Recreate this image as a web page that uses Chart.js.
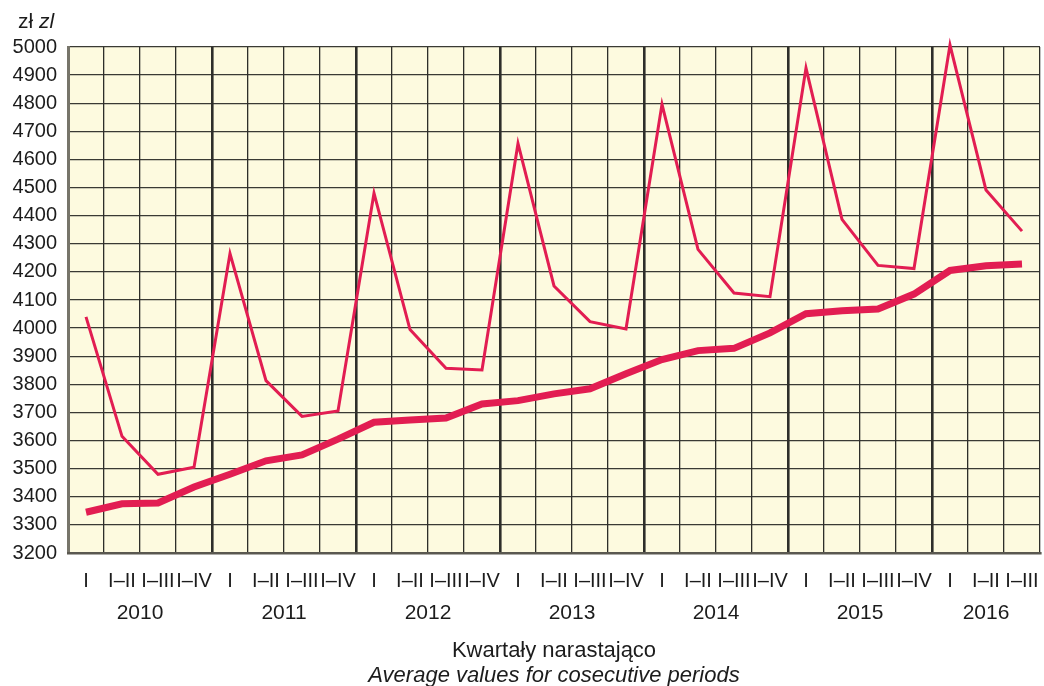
<!DOCTYPE html>
<html>
<head>
<meta charset="utf-8">
<script src="https://cdn.jsdelivr.net/npm/chart.js@4"></script>
<style>
  html, body { margin: 0; padding: 0; background: #fff; }
  #wrap { width: 1044px; height: 686px; }
</style>
</head>
<body>
<div id="wrap"><canvas id="wages"></canvas></div>
<script>
// quarters, cumulative within each year
const quarters = [
    'I', 'I–II', 'I–III', 'I–IV',
    'I', 'I–II', 'I–III', 'I–IV',
    'I', 'I–II', 'I–III', 'I–IV',
    'I', 'I–II', 'I–III', 'I–IV',
    'I', 'I–II', 'I–III', 'I–IV',
    'I', 'I–II', 'I–III', 'I–IV',
    'I', 'I–II', 'I–III'
]
const years = ['2010', '2011', '2012', '2013', '2014', '2015', '2016']

// thin line
const quarterValues = [
    4040, 3615, 3480, 3505,
    4265, 3813, 3686, 3705,
    4480, 3995, 3857, 3851,
    4657, 4150, 4023, 3997,
    4796, 4280, 4125, 4112,
    4925, 4387, 4223, 4212,
    5007, 4491, 4345
]
// thick line
const averageValues = [
    3345, 3375, 3378, 3435,
    3480, 3528, 3549, 3605,
    3665, 3673, 3680, 3730,
    3742, 3766, 3784, 3838,
    3888, 3920, 3928, 3983,
    4051, 4062, 4068, 4121,
    4205, 4222, 4228
]

const yTicks = { min: 3200, max: 5000, step: 100 }

const lineColor = '#e21d52'
const textColor = '#1c1c1c'
const fontFamily = "'Liberation Sans', Arial, sans-serif"

// middle of every year group on the category axis
function yearCenters() {
    let centers = []
    let start = 0
    for (let i = 1; i <= quarters.length; i++) {
        if (i === quarters.length || quarters[i] === 'I') {
            centers.push((start + i - 1) / 2)
            start = i
        }
    }
    return centers
}
const centers = yearCenters()

const paperBackground = {
    id: 'paperBackground',
    beforeDraw(chart) {
        const { ctx, chartArea: a } = chart
        ctx.save()
        ctx.fillStyle = '#fdfadf'
        ctx.fillRect(a.left, a.top, a.right - a.left, a.bottom - a.top)
        ctx.restore()
    }
}

const captions = {
    id: 'captions',
    afterDraw(chart) {
        const { ctx, chartArea: a } = chart
        ctx.save()
        ctx.fillStyle = textColor
        ctx.textBaseline = 'middle'
        // unit label
        ctx.textAlign = 'left'
        ctx.font = '21px ' + fontFamily
        ctx.fillText('zł ', 18, 22)
        const w = ctx.measureText('zł ').width
        ctx.font = 'italic 21px ' + fontFamily
        ctx.fillText('zl', 18 + w, 22)
        // axis caption
        const cx = (a.left + a.right) / 2
        ctx.textAlign = 'center'
        ctx.font = '22px ' + fontFamily
        ctx.fillText('Kwartały narastająco', cx, 651)
        ctx.font = 'italic 22px ' + fontFamily
        ctx.fillText('Average values for cosecutive periods', cx, 676)
        ctx.restore()
    }
}

new Chart(document.getElementById('wages'), {
    type: 'line',
    data: {
        labels: quarters,
        datasets: [
            {
                data: quarterValues,
                borderColor: lineColor,
                borderWidth: 3,
                pointRadius: 0,
                tension: 0,
                clip: false
            },
            {
                data: averageValues,
                borderColor: lineColor,
                borderWidth: 7,
                pointRadius: 0,
                tension: 0,
                clip: false
            }
        ]
    },
    options: {
        responsive: true,
        maintainAspectRatio: false,
        animation: false,
        layout: { padding: { top: 47, right: 4, left: 0, bottom: 58 } },
        plugins: {
            legend: { display: false },
            tooltip: { enabled: false }
        },
        scales: {
            y: {
                min: yTicks.min,
                max: yTicks.max,
                afterFit: scale => { scale.width = 68 },
                ticks: {
                    stepSize: yTicks.step,
                    padding: 11,
                    color: textColor,
                    font: { family: fontFamily, size: 20 },
                    callback: value => String(value)
                },
                grid: { color: '#3a3a34', lineWidth: 1.3, drawTicks: false },
                border: { color: '#77756a', width: 3 }
            },
            x: {
                offset: true,
                afterFit: scale => {
                    scale.height = 40
                    scale.paddingLeft = 0
                    scale.paddingRight = 0
                },
                ticks: {
                    autoSkip: false,
                    maxRotation: 0,
                    padding: 16,
                    color: textColor,
                    font: { family: fontFamily, size: 20 }
                },
                grid: {
                    offset: true,
                    drawTicks: false,
                    color: '#2e2e2a',
                    lineWidth: ctx => (ctx.index % 4 === 0 ? 2.6 : 1.3)
                },
                border: { color: '#5a5850', width: 2.5 }
            },
            x2: {
                type: 'linear',
                position: 'bottom',
                min: -0.5,
                max: quarters.length - 0.5,
                afterFit: scale => {
                    scale.height = 35
                    scale.paddingLeft = 0
                    scale.paddingRight = 0
                },
                afterBuildTicks: scale => {
                    scale.ticks = centers.map(v => ({ value: v }))
                },
                ticks: {
                    autoSkip: false,
                    maxRotation: 0,
                    padding: 8,
                    color: textColor,
                    font: { family: fontFamily, size: 21 },
                    callback: value => years[centers.indexOf(value)]
                },
                grid: { display: false, drawTicks: false },
                border: { display: false }
            }
        }
    },
    plugins: [paperBackground, captions]
})
</script>
</body>
</html>
